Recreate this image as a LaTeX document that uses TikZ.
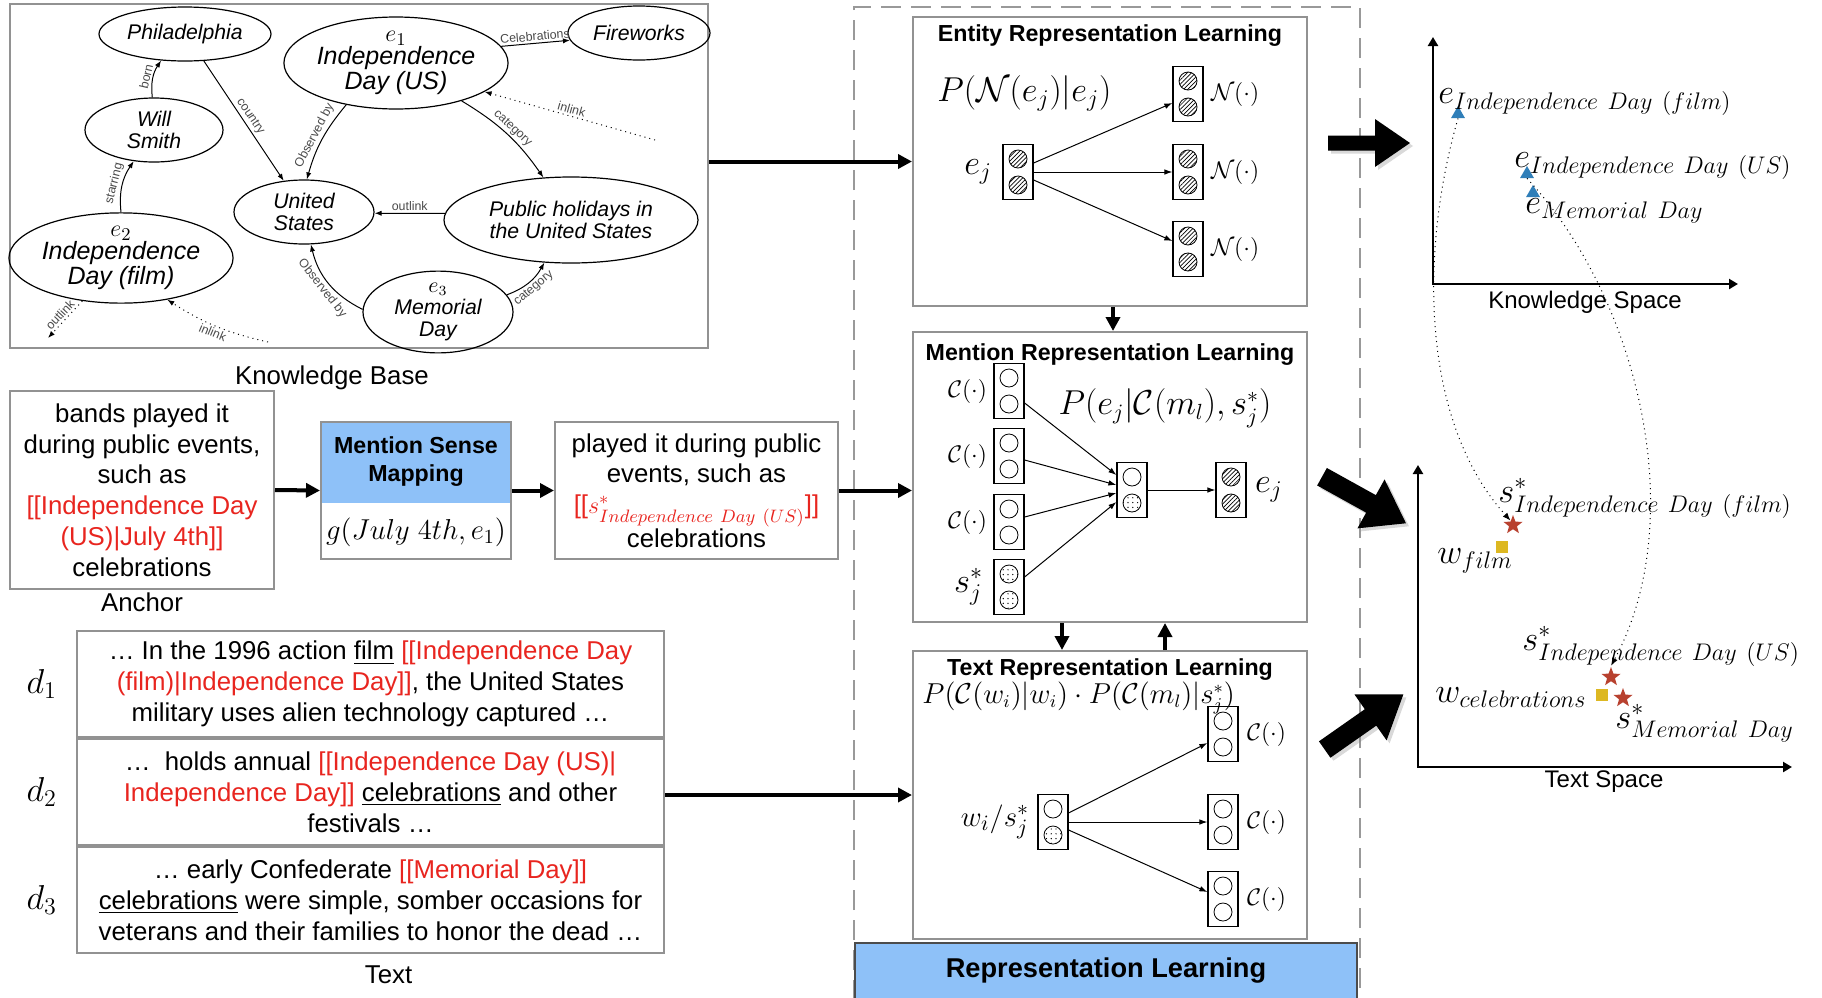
\documentclass[tikz,border=0pt]{standalone}
\usepackage{amsmath}
\usepackage{fontspec}
\setmainfont{Liberation Sans}
\usetikzlibrary{positioning, arrows.meta, shapes.geometric, patterns.meta, shadows}

\definecolor{kbred}{HTML}{E8251F}
\definecolor{boxgray}{HTML}{929292}
\definecolor{edgegray}{HTML}{4A4A4A}
\definecolor{lblue}{HTML}{8EC1F8}
\definecolor{triblue}{HTML}{2F7EB8}
\definecolor{starred}{HTML}{B8412F}
\definecolor{sqyellow}{HTML}{DDB822}

\newcommand\fsbody{\fontsize{12.9}{15.4}\selectfont}
\newcommand\fsent{\fontsize{10.6}{11}\selectfont\itshape}
\newcommand\fsmain{\fontsize{12.5}{11.5}\selectfont\itshape}
\newcommand\fsedge{\fontsize{6.2}{7}\selectfont}
\newcommand\fstitle{\fontsize{11.6}{14}\selectfont\bfseries}
\newcommand\fsrl{\fontsize{13.6}{15}\selectfont\bfseries}
\newcommand\fscap{\fontsize{12.9}{14}\selectfont}
\newcommand\fsvec{\fontsize{11.5}{13}\selectfont}
\newcommand\fsfa{\fontsize{17}{19}\selectfont}
\newcommand\fsfb{\fontsize{16}{18}\selectfont}
\newcommand\fsfc{\fontsize{13.5}{15}\selectfont}
\newcommand\fsg{\fontsize{14.5}{16}\selectfont}
\newcommand\fswi{\fontsize{15}{17}\selectfont}
\newcommand\fssp{\fontsize{17}{19}\selectfont}
\newcommand\kbr[1]{\textcolor{kbred}{#1}}

\begin{document}
\begin{tikzpicture}[x=0.5pt, y=-0.5pt,
    entity/.style={ellipse, draw, line width=0.6pt, inner sep=0pt, align=center, font=\fsent},
    kbedge/.style={-{Latex[length=3.5pt,width=2.6pt]}, line width=0.5pt},
    kblab/.style={font=\fsedge, text=edgegray, inner sep=1pt, sloped, midway},
    panel/.style={draw=boxgray, line width=1pt, inner sep=0pt},
    txtbox/.style={draw=boxgray, line width=1pt, align=center, font=\fsbody, inner sep=0pt},
    title/.style={font=\fstitle, inner sep=0pt, align=center},
    caption/.style={font=\fscap, inner sep=0pt},
    vbox/.style={draw, line width=0.6pt, minimum width=15pt, minimum height=27.5pt, inner sep=0pt},
    hatchc/.style={draw, line width=0.4pt, pattern={Lines[angle=45, distance=1.5pt, line width=0.35pt]}},
    dotc/.style={draw, line width=0.4pt, pattern={Dots[distance=2.4pt, radius=0.35pt]}},
    openc/.style={draw, line width=0.4pt},
    thinarr/.style={-{Latex[length=4pt,width=2.8pt]}, line width=0.5pt},
    midarr/.style={-{Triangle[length=7pt,width=7pt]}, line width=2pt},
    dotarr/.style={-{Latex[length=4pt,width=3pt]}, dotted, line width=0.5pt},
    axisarr/.style={{Triangle[length=4.5pt,width=5pt]}-{Triangle[length=4.5pt,width=5pt]}, line width=1.3pt},
    dashframe/.style={draw=gray!80, line width=1pt, dash pattern=on 10pt off 5pt},
    fatfill/.style={fill=black, drop shadow={opacity=0.3, shadow xshift=1.5pt, shadow yshift=-1.5pt}},
    tri/.style={regular polygon, regular polygon sides=3, fill=triblue, minimum size=8pt, inner sep=0pt},
    sstar/.style={star, star points=5, star point ratio=2.4, fill=starred, minimum size=10pt, inner sep=0pt},
    wsq/.style={fill=sqyellow, minimum size=6.3pt, inner sep=0pt},
    spl/.style={font=\fssp, inner sep=0pt, anchor=base west},
    pics/vec/.style 2 args={code={
        \node[vbox] (-b) at (0,0) {};
        \draw[#1] (0,-13) circle [radius=9];
        \draw[#2] (0,13) circle [radius=9];
    }},
    pics/fatarr/.style n args={4}{code={
        \fill[fatfill] (-#1/2,-#2) -- (#1/2-#4,-#2) -- (#1/2-#4,-#3) -- (#1/2,0)
            -- (#1/2-#4,#3) -- (#1/2-#4,#2) -- (-#1/2,#2) -- cycle;
    }}]
\useasboundingbox (0,0) rectangle (1822,997);

% knowledge base graph
\node[panel, minimum width=349pt, minimum height=172pt] (kb) at (359,176) {};
\node[caption, below=8pt of kb, xshift=-13.5pt] (kbcap) {Knowledge Base};
\node[entity, minimum width=86pt, minimum height=27pt] (phil) at (185,34) {Philadelphia};
\node[entity, minimum width=69pt, minimum height=32pt] (ws) at (154,130) {Will\\Smith};
\node[entity, minimum width=110pt, minimum height=46pt, font=\fsmain] (e1) at (396,63) {$e_1$\\Independence\\Day (US)};
\node[entity, minimum width=71pt, minimum height=27pt] (fw) at (639,33) {Fireworks};
\node[entity, minimum width=70pt, minimum height=32pt] (us) at (304,212) {United\\States};
\node[entity, minimum width=127pt, minimum height=43pt] (ph) at (571,220) {Public holidays in\\the United States};
\node[entity, minimum width=109pt, minimum height=45pt, font=\fsmain] (e2) at (121,258) {$e_2$\\Independence\\Day (film)};
\node[entity, minimum width=75pt, minimum height=35pt] (e3) at (438,312) {$e_3$\\Memorial\\Day};

\draw[kbedge] (ws.93) to[bend left=20] node[kblab, above]{born} (phil.228);
\draw[kbedge] (e2.north) to[bend left=20] node[kblab, above]{starring} (ws.237);
\draw[kbedge] (phil.-55) -- node[kblab, above]{country} (us.123);
\draw[kbedge] (e1.220) to[bend right=12] node[kblab, above]{Observed by} (us.85);
\draw[kbedge] (e1.9) -- node[kblab, above]{Celebrations} (fw.186);
\coordinate (inl1) at (655,140);
\draw[kbedge, dotted] (inl1) -- node[kblab, above]{inlink} (e1.-18);
\draw[kbedge] (e1.-30) to[bend left=12] node[kblab, above]{category} (ph.123);
\draw[kbedge] (ph.177) -- node[kblab, above]{outlink} (us.-1);
\draw[kbedge] (e3.178) to[bend left=25] node[kblab, below]{Observed by} (us.-78);
\draw[kbedge] (e3.14) to[bend right=20] node[kblab, below]{category} (ph.238);
\coordinate (outl2) at (48,338);
\draw[kbedge, dotted] (e2.228) -- node[kblab, above]{outlink} (outl2);
\coordinate (inl2) at (268,342);
\draw[kbedge, dotted] (inl2) to[bend left=10] node[kblab, below]{inlink} (e2.-42);

% anchor and mention sense mapping
\node[txtbox, minimum width=132pt, minimum height=99pt] (anc) at (142,490)
    {bands played it\\during public events,\\such as\\\kbr{[[Independence Day}\\\kbr{(US)|July 4th]]}\\celebrations};
\node[caption, below=1pt of anc] (anccap) {Anchor};
\node[panel, minimum width=95pt, minimum height=68.5pt,
    path picture={\fill[lblue] (path picture bounding box.north west) rectangle ([yshift=-40.5pt]path picture bounding box.north east);}]
    (msm) at (416,490.5) {};
\node[title] (msmt) at ([yshift=-20.5pt]msm.north) {Mention Sense\\Mapping};
\node[font=\fsg, inner sep=0pt] (gmap) at ([yshift=14pt]msm.south) {$g(July\ 4th, e_1)$};
\node[txtbox, minimum width=141.5pt, minimum height=68.5pt] (ctx) at (696.5,490.5)
    {played it during public\\events, such as\\\kbr{[[$s^*_{Independence\ Day\ (US)}$]]}\\celebrations};
\draw[midarr] (anc.east) -- (msm.west);
\draw[midarr] (msm.east) -- (ctx.west);

% text
\node[txtbox, minimum width=293.5pt, minimum height=53pt] (d1) at (370.5,684)
    {… In the 1996 action \underline{film} \kbr{[[Independence Day}\\\kbr{(film)|Independence Day]]}, the United States\\military uses alien technology captured …};
\node[txtbox, minimum width=293.5pt, minimum height=53pt, below=0pt of d1] (d2)
    {… \ holds annual \kbr{[[Independence Day (US)|}\\\kbr{Independence Day]]} \underline{celebrations} and other\\festivals …};
\node[txtbox, minimum width=293.5pt, minimum height=53pt, below=0pt of d2] (d3)
    {… early Confederate \kbr{[[Memorial Day]]}\\\underline{celebrations} were simple, somber occasions for\\veterans and their families to honor the dead …};
\node[caption, below=5.5pt of d3, xshift=9pt] (txtcap) {Text};
\node[font=\fsfa, left=6pt of d1] (d1l) {$d_1$};
\node[font=\fsfa, left=6pt of d2] (d2l) {$d_2$};
\node[font=\fsfa, left=6pt of d3] (d3l) {$d_3$};

% representation learning
\draw[dashframe] (854,1000) -- (854,7) -- (1360,7) -- (1360,1000);
\node[fill=lblue, draw=gray!60!black, line width=0.8pt, minimum width=251pt, minimum height=28pt, font=\fsrl] (rl) at (1106,971) {Representation Learning};

\node[panel, minimum width=197pt, minimum height=144.5pt] (erl) at (1110,161.5) {};
\node[title, below=4pt of erl.north] (erlt) {Entity Representation Learning};
\node[font=\fsfa, inner sep=0pt, anchor=west] (perl) at (937,93) {$P(\mathcal{N}(e_j)|e_j)$};
\pic (ej) at (1018,172) {vec={hatchc}{hatchc}};
\node[font=\fsfa, inner sep=0pt, left=5pt of ej-b] (ejl) {$e_j$};
\pic (n1) at (1188,94) {vec={hatchc}{hatchc}};
\pic (n2) at (1188,172) {vec={hatchc}{hatchc}};
\pic (n3) at (1188,249) {vec={hatchc}{hatchc}};
\node[font=\fsvec, inner sep=0pt, right=3.5pt of n1-b] (n1l) {$\mathcal{N}(\cdot)$};
\node[font=\fsvec, inner sep=0pt, right=3.5pt of n2-b] (n2l) {$\mathcal{N}(\cdot)$};
\node[font=\fsvec, inner sep=0pt, right=3.5pt of n3-b] (n3l) {$\mathcal{N}(\cdot)$};
\draw[thinarr] ([yshift=4.5pt]ej-b.east) -- ([yshift=-4.5pt]n1-b.west);
\draw[thinarr] (ej-b.east) -- (n2-b.west);
\draw[thinarr] ([yshift=-4pt]ej-b.east) -- ([yshift=4pt]n3-b.west);

\node[panel, minimum width=197pt, minimum height=145pt] (mrl) at (1110,477) {};
\node[title, below=6pt of mrl.north] (mrlt) {Mention Representation Learning};
\node[font=\fsfb, inner sep=0pt] (pmrl) at (1165,408) {$P(e_j|\mathcal{C}(m_l),s_j^*)$};
\pic (c1) at (1009,391) {vec={openc}{openc}};
\pic (c2) at (1009,456) {vec={openc}{openc}};
\pic (c3) at (1009,522) {vec={openc}{openc}};
\pic (sj) at (1009,587) {vec={dotc}{dotc}};
\pic (mid) at (1132,490) {vec={openc}{dotc}};
\pic (ej2) at (1231,490) {vec={hatchc}{hatchc}};
\node[font=\fsvec, inner sep=0pt, left=3pt of c1-b] (c1l) {$\mathcal{C}(\cdot)$};
\node[font=\fsvec, inner sep=0pt, left=3pt of c2-b] (c2l) {$\mathcal{C}(\cdot)$};
\node[font=\fsvec, inner sep=0pt, left=3pt of c3-b] (c3l) {$\mathcal{C}(\cdot)$};
\node[font=\fsfa, inner sep=0pt, left=5pt of sj-b] (sjl) {$s_j^*$};
\node[font=\fsfa, inner sep=0pt, right=4pt of ej2-b] (ej2l) {$e_j$};
\draw[thinarr] ([yshift=-6pt]c1-b.east) -- ([yshift=7.5pt]mid-b.west);
\draw[thinarr] ([yshift=-2pt]c2-b.east) -- ([yshift=2.5pt]mid-b.west);
\draw[thinarr] ([yshift=2.5pt]c3-b.east) -- ([yshift=-1.5pt]mid-b.west);
\draw[thinarr] ([yshift=5pt]sj-b.east) -- ([yshift=-6pt]mid-b.west);
\draw[thinarr] (mid-b.east) -- (ej2-b.west);

\node[panel, minimum width=197pt, minimum height=144pt] (trl) at (1110,795) {};
\node[title, below=4pt of trl.north] (trlt) {Text Representation Learning};
\node[font=\fsfc, inner sep=0pt, anchor=west] (ptrl) at (922,698) {$P(\mathcal{C}(w_i)|w_i)\cdot P(\mathcal{C}(m_l)|s_j^*)$};
\pic (wi) at (1053,822) {vec={openc}{dotc}};
\pic (t1) at (1223,734) {vec={openc}{openc}};
\pic (t2) at (1223,822) {vec={openc}{openc}};
\pic (t3) at (1223,899) {vec={openc}{openc}};
\node[font=\fswi, inner sep=0pt, left=4pt of wi-b] (wil) {$w_i/s_j^*$};
\node[font=\fsvec, inner sep=0pt, right=4pt of t1-b] (t1l) {$\mathcal{C}(\cdot)$};
\node[font=\fsvec, inner sep=0pt, right=4pt of t2-b] (t2l) {$\mathcal{C}(\cdot)$};
\node[font=\fsvec, inner sep=0pt, right=4pt of t3-b] (t3l) {$\mathcal{C}(\cdot)$};
\draw[thinarr] ([yshift=4.5pt]wi-b.east) -- ([yshift=-4.5pt]t1-b.west);
\draw[thinarr] (wi-b.east) -- (t2-b.west);
\draw[thinarr] ([yshift=-4pt]wi-b.east) -- ([yshift=3.5pt]t3-b.west);

% connectors between blocks
\draw[midarr] (kb.east |- erl.west) -- (erl.west);
\draw[midarr] (ctx.east) -- (ctx.east -| mrl.west);
\draw[midarr] (d2.east |- trl.west) -- (trl.west);
\draw[midarr] ([xshift=1.5pt]erl.south) -- ([xshift=1.5pt]mrl.north);
\draw[midarr] ([xshift=-24pt]mrl.south) -- ([xshift=-24pt]trl.north);
\draw[midarr] ([xshift=27.5pt]trl.north) -- ([xshift=27.5pt]mrl.south);

% spaces
\pic at (1369,143) {fatarr={82}{7.5}{24}{35}};
\pic[rotate=-29] at (1364,500) {fatarr={96}{10}{28}{40}};
\pic[rotate=35] at (1364,722) {fatarr={96}{10}{28}{40}};

\coordinate (ko) at (1433,284);
\coordinate (ky) at (1433,37);
\coordinate (kx) at (1738,284);
\draw[axisarr] (ky) -- (ko) -- (kx);
\node[caption, font=\fontsize{12}{14}\selectfont] (kscap) at (1585,302) {Knowledge Space};
\node[tri] (tf) at (1458,114) {};
\node[tri] (tu) at (1527,174) {};
\node[tri] (tm) at (1533,193) {};
\node[spl] (tfl) at (1438,103) {$e_{Independence\ Day\ (film)}$};
\node[spl] (tul) at (1514,167) {$e_{Independence\ Day\ (US)}$};
\node[spl] (tml) at (1525,213) {$e_{Memorial\ Day}$};

\coordinate (to) at (1418,767);
\coordinate (ty) at (1418,465);
\coordinate (tx) at (1792,767);
\draw[axisarr] (ty) -- (to) -- (tx);
\node[caption, font=\fontsize{12}{14}\selectfont] (tscap) at (1604,782) {Text Space};
\node[sstar] (sf) at (1513,525) {};
\node[sstar] (su) at (1611,677) {};
\node[sstar] (sm) at (1623,698) {};
\node[wsq] (wf) at (1502,547) {};
\node[wsq] (wc) at (1602,695) {};
\node[spl] (sfl) at (1498,502) {$s^*_{Independence\ Day\ (film)}$};
\node[spl] (wfl) at (1437,563) {$w_{film}$};
\node[spl] (sul) at (1522,650) {$s^*_{Independence\ Day\ (US)}$};
\node[spl] (wcl) at (1435,702) {$w_{celebrations}$};
\node[spl] (sml) at (1615,728) {$s^*_{Memorial\ Day}$};

\draw[dotarr] (tf.south) .. controls (1420,250) and (1420,420) .. (sf.120);
\draw[dotarr] (tu.south) .. controls (1640,300) and (1690,520) .. (su.north);
\end{tikzpicture}
\end{document}
